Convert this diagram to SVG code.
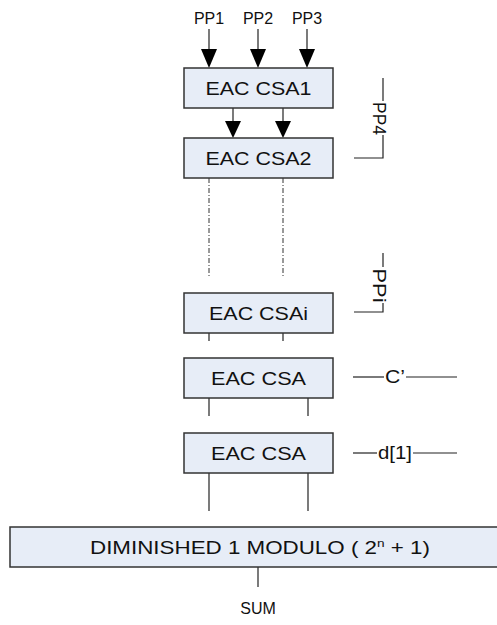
<svg xmlns="http://www.w3.org/2000/svg" width="497" height="625" viewBox="0 0 497 625">
<defs>
<style>
.box{fill:#e7edf7;stroke:#333;stroke-width:1.5}
.t{font-family:"Liberation Sans",Arial,sans-serif;font-size:18px;fill:#111;text-anchor:middle}
.s{font-size:16px}
.ln{stroke:#222;stroke-width:1.2;fill:none}
.dd{stroke:#333;stroke-width:1;fill:none;stroke-dasharray:5,2,1,2}
</style>
</defs>
<rect width="497" height="625" fill="#fff"/>
<g id="connectors">
<line class="ln" x1="209" y1="29" x2="209" y2="49"/>
<path d="M201,49 L217,49 L209,68 Z" fill="#000"/>
<line class="ln" x1="258" y1="29" x2="258" y2="49"/>
<path d="M250,49 L266,49 L258,68 Z" fill="#000"/>
<line class="ln" x1="307" y1="29" x2="307" y2="49"/>
<path d="M299,49 L315,49 L307,68 Z" fill="#000"/>
<line class="ln" x1="233" y1="108" x2="233" y2="121"/>
<path d="M225,121 L241,121 L233,138 Z" fill="#000"/>
<line class="ln" x1="283" y1="108" x2="283" y2="121"/>
<path d="M275,121 L291,121 L283,138 Z" fill="#000"/>
<line class="dd" x1="209" y1="178" x2="209" y2="277"/>
<line class="dd" x1="283" y1="178" x2="283" y2="277"/>
<line class="ln" x1="209" y1="333" x2="209" y2="341"/>
<line class="ln" x1="283" y1="333" x2="283" y2="341"/>
<line class="ln" x1="209" y1="398" x2="209" y2="416"/>
<line class="ln" x1="308" y1="398" x2="308" y2="416"/>
<line class="ln" x1="209" y1="473" x2="209" y2="511"/>
<line class="ln" x1="308" y1="473" x2="308" y2="511"/>
<line class="ln" x1="258" y1="567" x2="258" y2="587"/>
<polyline class="ln" points="383,78 383,101"/>
<polyline class="ln" points="383,135 383,158 354,158"/>
<polyline class="ln" points="383,253 383,267"/>
<polyline class="ln" points="383,303 383,312 354,312"/>
<line class="ln" x1="353" y1="377" x2="384" y2="377"/>
<line class="ln" x1="406" y1="377" x2="457" y2="377"/>
<line class="ln" x1="353" y1="453" x2="377" y2="453"/>
<line class="ln" x1="413" y1="453" x2="457" y2="453"/>
</g>
<g id="labels">
<text class="t s" x="209" y="24">PP1</text>
<text class="t s" x="258" y="24">PP2</text>
<text class="t s" x="307" y="24">PP3</text>
<text class="t" transform="translate(373,118.5) rotate(90)" textLength="33" lengthAdjust="spacingAndGlyphs">PP4</text>
<text class="t" transform="translate(373,285.5) rotate(90)" textLength="34" lengthAdjust="spacingAndGlyphs">PPi</text>
<text class="t" x="395" y="383" textLength="20" lengthAdjust="spacingAndGlyphs">C’</text>
<text class="t" x="395" y="459" textLength="34" lengthAdjust="spacingAndGlyphs">d[1]</text>
<text class="t s" x="258" y="614">SUM</text>
</g>
<g id="csa1"><rect class="box" x="184" y="68" width="149" height="40"/><text class="t" x="258.5" y="94.5" textLength="106" lengthAdjust="spacingAndGlyphs">EAC CSA1</text></g>
<g id="csa2"><rect class="box" x="184" y="138" width="149" height="40"/><text class="t" x="258.5" y="164.5" textLength="106" lengthAdjust="spacingAndGlyphs">EAC CSA2</text></g>
<g id="csai"><rect class="box" x="184" y="293" width="149" height="40"/><text class="t" x="258.5" y="319.5" textLength="99" lengthAdjust="spacingAndGlyphs">EAC CSAi</text></g>
<g id="csa3"><rect class="box" x="184" y="358" width="149" height="40"/><text class="t" x="258.5" y="384.5" textLength="95" lengthAdjust="spacingAndGlyphs">EAC CSA</text></g>
<g id="csa4"><rect class="box" x="184" y="433" width="149" height="40"/><text class="t" x="258.5" y="459.5" textLength="95" lengthAdjust="spacingAndGlyphs">EAC CSA</text></g>
<g id="dim"><rect class="box" x="10" y="527" width="490" height="40"/><text class="t" x="260" y="553.5" textLength="340" lengthAdjust="spacingAndGlyphs">DIMINISHED 1 MODULO  ( 2<tspan dy="-7" font-size="11">n</tspan><tspan dy="7"> + 1)</tspan></text></g>
</svg>
